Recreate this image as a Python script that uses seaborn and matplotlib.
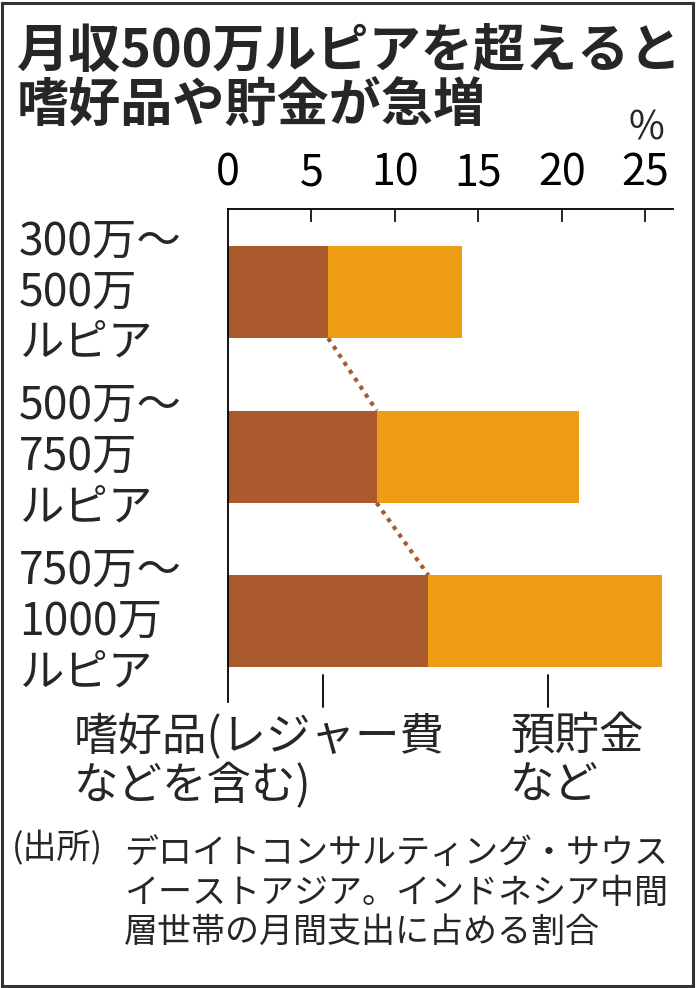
import pandas as pd
import matplotlib.pyplot as plt
import matplotlib.transforms as mtransforms
from matplotlib.patches import Rectangle
import seaborn as sns

# data (% of monthly spending)
categories = ['300万～\n500万\nルピア', '500万～\n750万\nルピア', '750万～\n1000万\nルピア']
leisure = [6.0, 8.9, 12.0]     # 嗜好品(レジャー費などを含む)
savings = [8.0, 12.1, 14.0]    # 預貯金など
xticks = [0, 5, 10, 15, 20, 25]

df = pd.DataFrame({'cat': categories, 'leisure': leisure, 'savings': savings})
df['total'] = df['leisure'] + df['savings']

BROWN = '#AB5A2E'
ORANGE = '#EE9C14'
JP = ['Noto Sans CJK JP', 'DejaVu Sans']

sns.set_style('white')
plt.rcParams['font.family'] = JP

W, H = 696, 988
fig = plt.figure(figsize=(W / 100, H / 100), dpi=100)

def fx(x):
    return x / W

def fy(y):
    return 1 - y / H

# axes box in pixels: x 228..673, y 209..702
ax = fig.add_axes([fx(228), fy(702), fx(673) - fx(228), (702 - 209) / H])

sns.barplot(data=df, x='total', y='cat', color=ORANGE, width=0.56, orient='h',
            saturation=1, linewidth=0, ax=ax)
sns.barplot(data=df, x='leisure', y='cat', color=BROWN, width=0.56, orient='h',
            saturation=1, linewidth=0, ax=ax)

ax.set_xlim(0, 26.65)
ax.set_ylim(2.49, -0.505)

# dotted connectors between the brown segments
h = 0.56 / 2
for i in range(len(leisure) - 1):
    ax.plot([leisure[i], leisure[i + 1]], [i + h, i + 1 - h], color=BROWN,
            lw=3, linestyle=(0, (1, 1.3)), solid_capstyle='butt', zorder=1)

# axis styling: top axis with inward ticks
for s in ['right', 'bottom']:
    ax.spines[s].set_visible(False)
for s in ['top', 'left']:
    ax.spines[s].set_color('black')
    ax.spines[s].set_linewidth(1.3)
ax.xaxis.tick_top()
ax.set_xticks(xticks)
ax.set_xticklabels([str(t) for t in xticks])
ax.tick_params(axis='x', direction='in', length=9, width=1.2, pad=10,
               labelsize=31, colors='black')
ax.xaxis.get_major_ticks()[0].tick2line.set_visible(False)
ax.set_yticks([])
ax.set_xlabel('')
ax.set_ylabel('')

# category labels at the left
trans = mtransforms.blended_transform_factory(fig.transFigure, ax.transData)
for i, c in enumerate(categories):
    ax.text(fx(19), i, c, transform=trans, ha='left', va='center',
            fontsize=32, linespacing=1.13, clip_on=False)

fig.text(fx(646), fy(129), '%', ha='center', va='center', fontsize=28)

# leader lines to the legend labels
ltrans = mtransforms.blended_transform_factory(ax.transData, ax.transAxes)
for lx in [5.69, 19.16]:
    ax.plot([lx, lx], [(702 - 675) / 493, (702 - 707) / 493], color='black',
            lw=1.3, transform=ltrans, clip_on=False)

# title
fig.text(fx(17), fy(51), '月収500万ルピアを超えると', ha='left', va='center',
         fontsize=37.5, fontweight='bold')
fig.text(fx(17), fy(106), '嗜好品や貯金が急増', ha='left', va='center',
         fontsize=37.5, fontweight='bold')

# legend labels
fig.text(fx(74), fy(762), '嗜好品(レジャー費\nなどを含む)', ha='left', va='center',
         fontsize=32, linespacing=1.08)
fig.text(fx(510), fy(760), '預貯金\nなど', ha='left', va='center',
         fontsize=32, linespacing=1.08)

# source
fig.text(fx(12), fy(849), '(出所)', ha='left', va='center', fontsize=24.5)
fig.text(fx(124), fy(893), 'デロイトコンサルティング・サウス\nイーストアジア。インドネシア中間\n層世帯の月間支出に占める割合',
         ha='left', va='center', fontsize=24.5, linespacing=1.17)

# frame around the graphic
fig.patches.append(Rectangle((0.003, 0.002), 0.993, 0.995, transform=fig.transFigure,
                             fill=False, edgecolor='#333333', lw=2.2))

fig.savefig('out.png', dpi=100, facecolor='white')
